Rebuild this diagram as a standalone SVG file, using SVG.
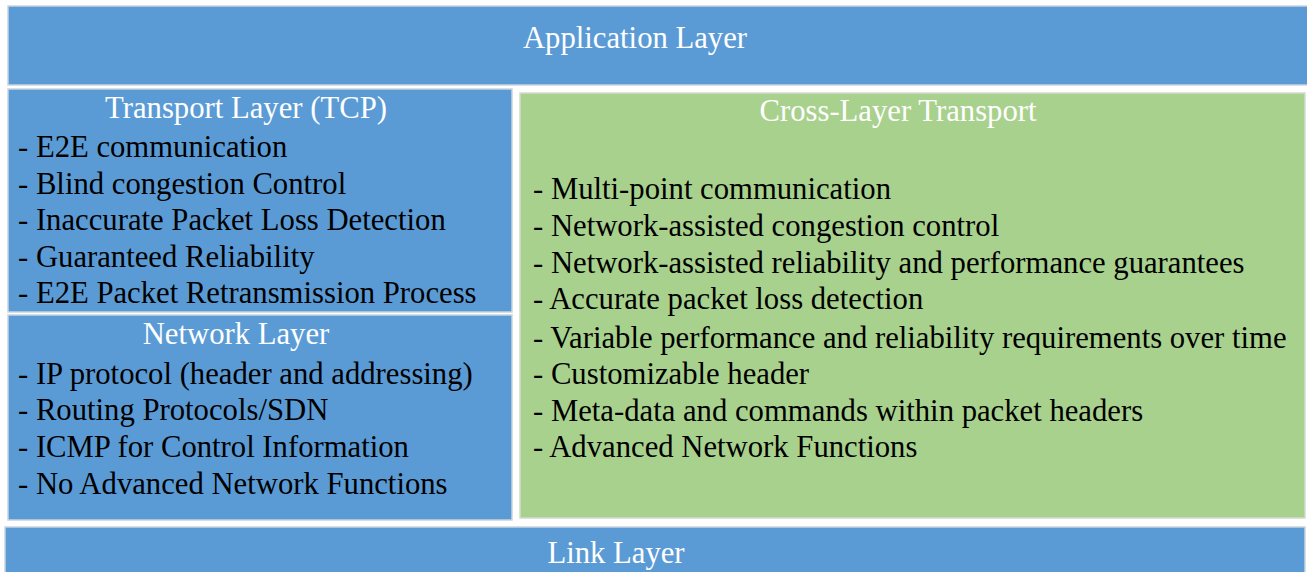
<svg xmlns="http://www.w3.org/2000/svg" width="1307" height="572" viewBox="0 0 1307 572">
  <defs>
    <style>
      .blue { fill: #5B9BD5; stroke: #C9D3DE; stroke-width: 1.5; }
      .green { fill: #A9D18E; stroke: #D3DAD0; stroke-width: 1.5; }
      text { font-family: "Liberation Serif", "Times New Roman", serif; font-size: 30.7px; }
      .title { fill: #FFFFFF; text-anchor: middle; }
      .item { fill: #000000; }
    </style>
  </defs>
  <rect x="0" y="0" width="1307" height="572" fill="#FFFFFF"/>

  <g id="application-layer">
    <rect class="blue" x="8" y="6" width="1300" height="79"/>
    <text class="title" x="635" y="48">Application Layer</text>
  </g>

  <g id="transport-layer">
    <rect class="blue" x="8" y="89" width="504" height="223"/>
    <text class="title" x="246" y="118">Transport Layer (TCP)</text>
    <text class="item" x="18" y="157">- E2E communication</text>
    <text class="item" x="18" y="194">- Blind congestion Control</text>
    <text class="item" x="18" y="230">- Inaccurate Packet Loss Detection</text>
    <text class="item" x="18" y="267">- Guaranteed Reliability</text>
    <text class="item" x="18" y="303">- E2E Packet Retransmission Process</text>
  </g>

  <g id="network-layer">
    <rect class="blue" x="8" y="315" width="504" height="205"/>
    <text class="title" x="236" y="344">Network Layer</text>
    <text class="item" x="18" y="384">- IP protocol (header and addressing)</text>
    <text class="item" x="18" y="420">- Routing Protocols/SDN</text>
    <text class="item" x="18" y="457">- ICMP for Control Information</text>
    <text class="item" x="18" y="494">- No Advanced Network Functions</text>
  </g>

  <g id="cross-layer-transport">
    <rect class="green" x="520" y="93" width="785" height="425"/>
    <text class="title" x="898" y="121">Cross-Layer Transport</text>
    <text class="item" x="533" y="199">- Multi-point communication</text>
    <text class="item" x="533" y="236">- Network-assisted congestion control</text>
    <text class="item" x="533" y="273">- Network-assisted reliability and performance guarantees</text>
    <text class="item" x="533" y="309">- Accurate packet loss detection</text>
    <text class="item" x="533" y="348">- Variable performance and reliability requirements over time</text>
    <text class="item" x="533" y="384">- Customizable header</text>
    <text class="item" x="533" y="421">- Meta-data and commands within packet headers</text>
    <text class="item" x="533" y="457">- Advanced Network Functions</text>
  </g>

  <g id="link-layer">
    <rect class="blue" x="5" y="527" width="1300" height="50"/>
    <text class="title" x="616" y="563">Link Layer</text>
  </g>

  <g id="connectors"/>
</svg>
